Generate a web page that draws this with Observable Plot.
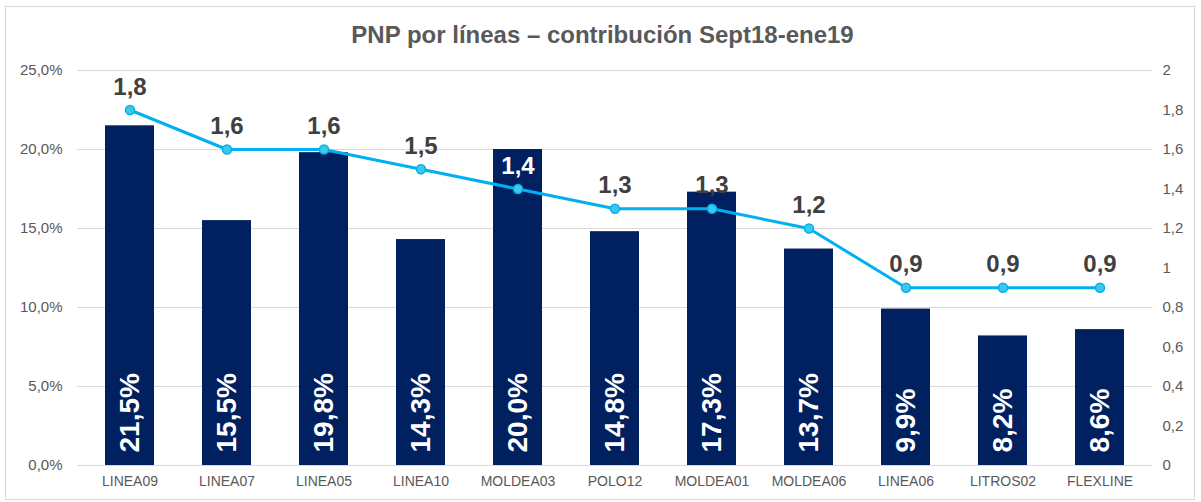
<!DOCTYPE html>
<html>
<head>
<meta charset="utf-8">
<script src="https://cdn.jsdelivr.net/npm/d3@7"></script>
<script src="https://cdn.jsdelivr.net/npm/@observablehq/plot@0.6"></script>
<style>
  html, body { margin: 0; padding: 0; background: #fff; }
  #wrap { position: relative; width: 1201px; height: 502px; font-family: "Liberation Sans", Arial, sans-serif; }
  #frame { position: absolute; left: 5px; top: 6px; width: 1190px; height: 494px; border: 1px solid #d9d9d9; box-sizing: border-box; }
  #title { position: absolute; top: 21px; left: 2px; width: 1201px; text-align: center; font-weight: bold; font-size: 24px; color: #595959; }
  #chart { position: absolute; left: 0; top: 0; }
</style>
</head>
<body>
<div id="wrap">
  <div id="frame"></div>
  <div id="chart"></div>
  <div id="title">PNP por líneas – contribución Sept18-ene19</div>
</div>
<script>
const categories = ["LINEA09", "LINEA07", "LINEA05", "LINEA10", "MOLDEA03", "POLO12", "MOLDEA01", "MOLDEA06", "LINEA06", "LITROS02", "FLEXLINE"];
const contribucionPct = [21.5, 15.5, 19.8, 14.3, 20.0, 14.8, 17.3, 13.7, 9.9, 8.2, 8.6];
const pnpValues = [1.8, 1.6, 1.6, 1.5, 1.4, 1.3, 1.3, 1.2, 0.9, 0.9, 0.9];
const leftTicks = [0, 0.05, 0.10, 0.15, 0.20, 0.25];
const rightTicks = [0, 0.2, 0.4, 0.6, 0.8, 1, 1.2, 1.4, 1.6, 1.8, 2];
const leftMax = 0.25;
const rightMax = 2;

const toLeft = v => v / rightMax * leftMax;
const comma = (v, d) => v.toFixed(d).replace(".", ",");
const rightFmt = v => (Math.round(v * 10) / 10).toString().replace(".", ",");

const data = categories.map((c, i) => ({
  cat: c,
  pct: contribucionPct[i] / 100,
  pnp: pnpValues[i],
  pnpScaled: toLeft(pnpValues[i])
}));

const plotHeight = 502 - 70 - 37;
const labelOffset = 23; // px above point
const labelInsideBar = d => d.pnpScaled + (labelOffset + 8) / plotHeight * leftMax < d.pct;

const chart = Plot.plot({
  width: 1201,
  height: 502,
  marginTop: 70,
  marginBottom: 37,
  marginLeft: 77,
  marginRight: 49,
  style: { fontFamily: "'Liberation Sans', Arial, sans-serif", background: "transparent" },
  x: { domain: categories, paddingInner: 0.5, paddingOuter: 0.25, label: null },
  y: { domain: [0, leftMax], label: null, axis: null },
  marks: [
    Plot.gridY(leftTicks, { stroke: "#d9d9d9", strokeOpacity: 1, strokeWidth: 1 }),
    Plot.barY(data, { x: "cat", y: "pct", fill: "#002060" }),
    Plot.text(data, {
      x: "cat", y: 0, text: d => comma(d.pct * 100, 1) + "%",
      rotate: -90, textAnchor: "start", dy: -13,
      fill: "white", fontWeight: "bold", fontSize: 28
    }),
    Plot.lineY(data, { x: "cat", y: "pnpScaled", stroke: "#00b0f0", strokeWidth: 3 }),
    Plot.dot(data, { x: "cat", y: "pnpScaled", r: 4.5, fill: "#3cc8e6", stroke: "#00b0f0", strokeWidth: 1.5 }),
    Plot.text(data, {
      x: "cat", y: "pnpScaled", text: d => comma(d.pnp, 1),
      dy: -labelOffset, fill: d => labelInsideBar(d) ? "#ffffff" : "#404040",
      fontWeight: "bold", fontSize: 24
    }),
    Plot.axisX({ tickSize: 0, tickPadding: 11, fontSize: 14, color: "#595959", label: null }),
    Plot.axisY(leftTicks, {
      anchor: "left", tickSize: 0, tickPadding: 15, fontSize: 15, color: "#595959",
      tickFormat: d => comma(d * 100, 1) + "%", label: null
    }),
    Plot.axisY(rightTicks.map(toLeft), {
      anchor: "right", tickSize: 0, tickPadding: 10, fontSize: 15, color: "#595959",
      tickFormat: d => rightFmt(d / leftMax * rightMax), label: null
    })
  ]
});
document.getElementById("chart").appendChild(chart);
</script>
</body>
</html>
